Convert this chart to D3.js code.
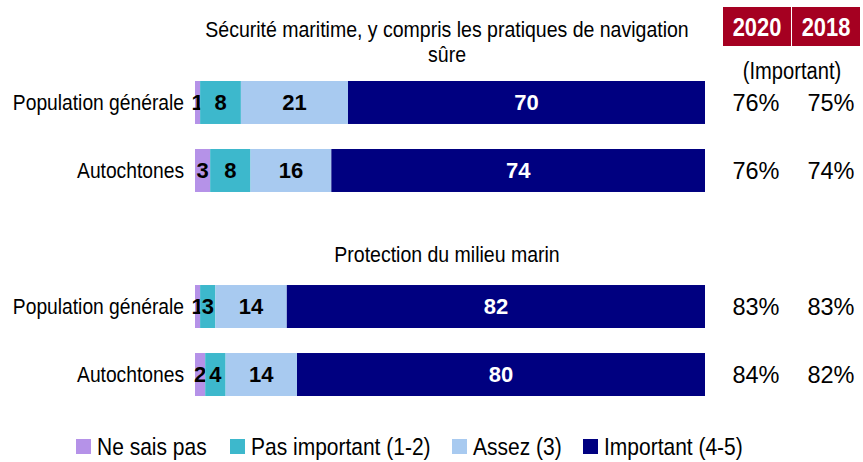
<!DOCTYPE html>
<html>
<head>
<meta charset="utf-8">
<script src="https://cdn.jsdelivr.net/npm/d3@7"></script>
<style>
  body { margin: 0; background: #fff; }
  svg { display: block; font-family: "Liberation Sans", Arial, sans-serif; }
</style>
</head>
<body>
<div id="chart"></div>
<script>
const groupTitles = [["Sécurité maritime, y compris les pratiques de navigation", "sûre"], ["Protection du milieu marin"]];
const rowLabels = ["Population générale", "Autochtones", "Population générale", "Autochtones"];
const rowGroup = [0, 0, 1, 1];
const seriesNames = ["Ne sais pas", "Pas important (1-2)", "Assez (3)", "Important (4-5)"];
const seriesColors = ["#b592e8", "#3db8cc", "#a8caf0", "#000080"];
const labelColors = ["#000", "#000", "#000", "#fff"];
const neSaisPas = [1, 3, 1, 2];
const pasImportant = [8, 8, 3, 4];
const assez = [21, 16, 14, 14];
const important = [70, 74, 82, 80];
const years = ["2020", "2018"];
const pct2020 = ["76%", "76%", "83%", "84%"];
const pct2018 = ["75%", "74%", "83%", "82%"];

const width = 863;
const height = 462;
const NARROW = 0.875; // fake an Arial Narrow look

const rows = rowLabels.map((label, i) => ({
  id: `r${i}`,
  label,
  group: rowGroup[i],
  s0: neSaisPas[i],
  s1: pasImportant[i],
  s2: assez[i],
  s3: important[i]
}));

// slot "gap" holds the second group's title
const slots = ["r0", "r1", "gap", "r2", "r3"];
const y = d3.scaleBand()
  .domain(slots)
  .range([81, 396])
  .paddingInner(0.368)
  .paddingOuter(0);

const x = d3.scaleLinear().domain([0, 1]).range([195, 705]);

const stack = d3.stack()
  .keys(["s0", "s1", "s2", "s3"])
  .offset(d3.stackOffsetExpand);
const stacked = stack(rows);

const svg = d3.select("#chart")
  .append("svg")
  .attr("width", width)
  .attr("height", height);

// squeeze a text horizontally around its anchor point
function narrow(sel, px, py, sx = NARROW) {
  sel.attr("transform", (d, i) => {
    const tx = typeof px === "function" ? px(d, i) : px;
    const ty = typeof py === "function" ? py(d, i) : py;
    return `translate(${tx},${ty}) scale(${sx},1)`;
  });
}

// group titles
const titleX = (x.range()[0] + x.range()[1]) / 2 - 3;
const titleY = [37, 262];
groupTitles.forEach((lines, g) => {
  lines.forEach((line, k) => {
    svg.append("text")
      .attr("text-anchor", "middle")
      .style("font-size", "22.3px")
      .call(narrow, titleX, titleY[g] + k * 25)
      .text(line);
  });
});

// bars
const layers = svg.append("g")
  .selectAll("g")
  .data(stacked)
  .join("g")
  .attr("fill", (d, i) => seriesColors[i]);

layers.selectAll("rect")
  .data(d => d)
  .join("rect")
  .attr("x", d => x(d[0]))
  .attr("y", d => y(d.data.id))
  .attr("width", d => x(d[1]) - x(d[0]))
  .attr("height", y.bandwidth());

// value labels
layers.each(function(layer, i) {
  d3.select(this)
    .selectAll("text")
    .data(layer)
    .join("text")
    .attr("x", d => (x(d[0]) + x(d[1])) / 2)
    .attr("y", d => y(d.data.id) + y.bandwidth() / 2)
    .attr("dy", ".36em")
    .attr("text-anchor", "middle")
    .style("font-weight", "bold")
    .style("font-size", "22px")
    .style("fill", labelColors[i])
    .text(d => d.data[layer.key]);
});

// row labels
svg.append("g")
  .selectAll("text")
  .data(rows)
  .join("text")
  .attr("dy", ".36em")
  .attr("text-anchor", "end")
  .style("font-size", "22px")
  .call(narrow, 184, d => y(d.id) + y.bandwidth() / 2)
  .text(d => d.label);

// year header boxes
const colX = d3.scaleBand().domain(years).range([723, 860]).paddingInner(0.015);
const header = svg.append("g");
header.selectAll("rect")
  .data(years)
  .join("rect")
  .attr("x", d => colX(d))
  .attr("y", 7)
  .attr("width", colX.bandwidth())
  .attr("height", 39)
  .attr("fill", "#a50021");
header.selectAll("text")
  .data(years)
  .join("text")
  .attr("dy", ".36em")
  .attr("text-anchor", "middle")
  .style("font-weight", "bold")
  .style("font-size", "25px")
  .style("fill", "#fff")
  .call(narrow, d => colX(d) + colX.bandwidth() / 2, 27)
  .text(d => d);

svg.append("text")
  .attr("dy", ".36em")
  .attr("text-anchor", "middle")
  .style("font-size", "23px")
  .call(narrow, 792, 71)
  .text("(Important)");

// percentages
const pctCols = [pct2020, pct2018];
const pctCenter = [756, 831];
pctCols.forEach((col, c) => {
  svg.append("g")
    .selectAll("text")
    .data(rows)
    .join("text")
    .attr("x", pctCenter[c])
    .attr("y", d => y(d.id) + y.bandwidth() / 2)
    .attr("dy", ".36em")
    .attr("text-anchor", "middle")
    .style("font-size", "23.5px")
    .text((d, i) => col[i]);
});

// legend
const legendX = [76, 230, 452, 583];
const legend = svg.append("g")
  .selectAll("g")
  .data(seriesNames)
  .join("g")
  .attr("transform", (d, i) => `translate(${legendX[i]},446)`);
legend.append("rect")
  .attr("x", 0)
  .attr("y", -7)
  .attr("width", 15)
  .attr("height", 15)
  .attr("fill", (d, i) => seriesColors[i]);
legend.append("text")
  .attr("dy", ".36em")
  .style("font-size", "24px")
  .call(narrow, 21, 0)
  .text(d => d);
</script>
</body>
</html>
